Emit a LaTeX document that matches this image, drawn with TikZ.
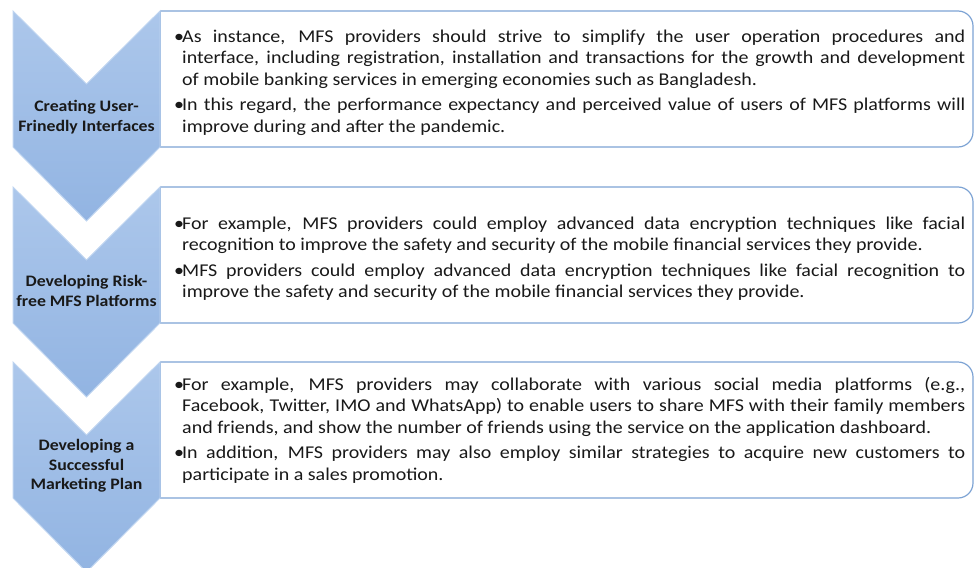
\documentclass[tikz,border=0pt]{standalone}
\usepackage{fontspec}
\setmainfont{Carlito}[FakeStretch=1.11]
\definecolor{chevtop}{RGB}{172,199,235}
\definecolor{chevbot}{RGB}{146,180,226}
\definecolor{chevline}{RGB}{190,212,240}
\definecolor{boxline}{RGB}{125,163,212}
\definecolor{txt}{RGB}{25,25,25}
\newcommand{\bul}[1]{\par\hangindent=8pt\hangafter=1\noindent\makebox[8pt][l]{•}#1\par}
\tikzset{
  chev/.style={top color=chevtop, bottom color=chevbot, draw=chevline, line width=1pt},
  infobox/.style={draw=boxline, line width=1.2pt, fill=white},
  bodytext/.style={anchor=west, inner sep=0pt, text width=791pt, align=justify, text=txt,
    font=\fontsize{18}{21.5}\selectfont},
  label/.style={inner sep=0pt, align=center, text=txt, font=\fontsize{16}{19.5}\selectfont\bfseries}
}
\begin{document}
\begin{tikzpicture}[x=1pt,y=-1pt]
\useasboundingbox (0,0) rectangle (976,567);
\clip (0,0) rectangle (976,567);
\foreach \dy in {0,176,351}{
  \draw[infobox, rounded corners=15pt] (160,11+\dy) -- (973,11+\dy) -- (973,147+\dy) -- (160,147+\dy);
  \draw[infobox] (160,11+\dy) -- (160,147+\dy);
  \draw[chev] (13,11+\dy) -- (86.5,84+\dy) -- (160,11+\dy) -- (160,147+\dy) -- (86.5,221+\dy) -- (13,147+\dy) -- cycle;
}
\node[label] (l1) at (86.5,117) {Creating User-\\Frinedly Interfaces};
\node[label] (l2) at (86.5,291) {Developing Risk-\\free MFS Platforms};
\node[label] (l3) at (86.5,466) {Developing a\\Successful\\Marketing Plan};
\node[bodytext] (t1) at (174,78) {%
\bul{As instance, MFS providers should strive to simplify the user operation procedures and\linebreak interface, including registration, installation and transactions for the growth and development\linebreak of mobile banking services in emerging economies such as Bangladesh.}
\vspace{4pt}
\bul{In this regard, the performance expectancy and perceived value of users of MFS platforms will\linebreak improve during and after the pandemic.}};
\node[bodytext] (t2) at (174,254) {%
\bul{For example, MFS providers could employ advanced data encryption techniques like facial\linebreak recognition to improve the safety and security of the mobile financial services they provide.}
\vspace{4pt}
\bul{MFS providers could employ advanced data encryption techniques like facial recognition to\linebreak improve the safety and security of the mobile financial services they provide.}};
\node[bodytext] (t3) at (174,426) {%
\bul{For example, MFS providers may collaborate with various social media platforms (e.g.,\linebreak Facebook, Twitter, IMO and WhatsApp) to enable users to share MFS with their family members\linebreak and friends, and show the number of friends using the service on the application dashboard.}
\vspace{4pt}
\bul{In addition, MFS providers may also employ similar strategies to acquire new customers to\linebreak participate in a sales promotion.}};
\end{tikzpicture}
\end{document}
